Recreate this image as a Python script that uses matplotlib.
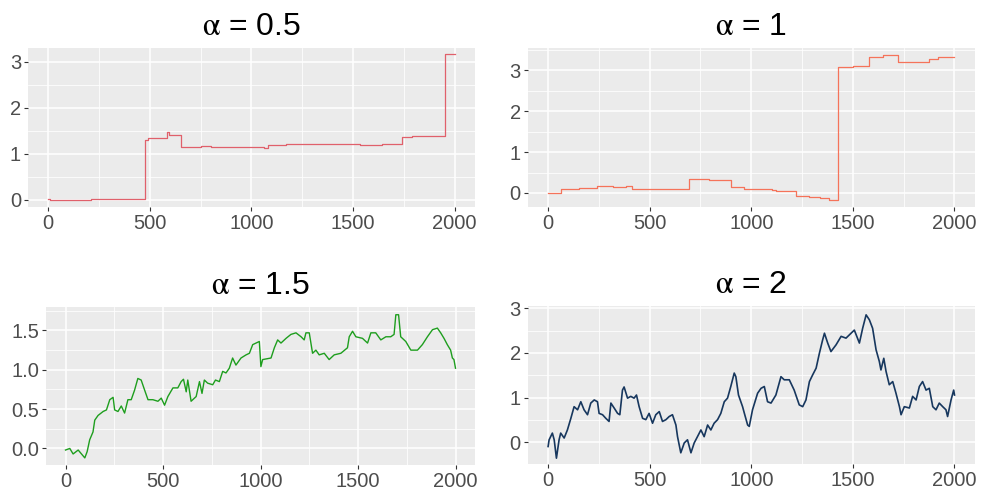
import matplotlib
matplotlib.use('Agg')
import matplotlib.pyplot as plt
from matplotlib.ticker import MultipleLocator, FormatStrFormatter

plt.rcParams['font.family'] = ['Liberation Sans', 'DejaVu Sans']
plt.rcParams['mathtext.fontset'] = 'stix'

# alpha = 0.5 : jump times and levels (step path)
a05_t = [0, 10, 210, 476, 490, 586, 592, 652, 752, 801, 1060, 1081, 1172, 1533, 1640, 1742, 1790, 1952, 2000]
a05_y = [0.02, 0.00, 0.02, 1.30, 1.34, 1.48, 1.41, 1.145, 1.17, 1.145, 1.12, 1.19, 1.22, 1.20, 1.22, 1.36, 1.38, 3.17, 3.17]

# alpha = 1 : jump times and levels (step path)
a1_t = [0, 62, 153, 243, 317, 382, 415, 530, 695, 793, 900, 965, 1100, 1121, 1220, 1286, 1340, 1380, 1425, 1500, 1581, 1650, 1700, 1724, 1800, 1873, 1920, 2000]
a1_y = [0.0, 0.105, 0.12, 0.18, 0.15, 0.17, 0.105, 0.10, 0.34, 0.31, 0.15, 0.10, 0.07, 0.04, -0.07, -0.10, -0.13, -0.17, 3.08, 3.10, 3.33, 3.36, 3.38, 3.21, 3.20, 3.28, 3.31, 3.32]

# alpha = 1.5
a15_t = [0, 22, 39, 65, 82, 99, 111, 124, 141, 150, 167, 193, 210, 227, 244, 252, 269, 286, 303, 320,
         337, 354, 371, 388, 406, 423, 448, 474, 491, 508, 525, 551, 576, 593, 605, 619, 627, 644, 670, 687,
         700, 712, 729, 755, 769, 789, 806, 823, 840, 857, 874, 900, 926, 943, 960, 977, 994, 1002, 1011, 1054,
         1071, 1088, 1105, 1131, 1156, 1182, 1208, 1224, 1233, 1250, 1267, 1284, 1301, 1327, 1352, 1378, 1412, 1446, 1455, 1472,
         1489, 1523, 1549, 1566, 1591, 1617, 1643, 1668, 1685, 1694, 1708, 1719, 1745, 1771, 1805, 1830, 1856, 1882, 1907, 1924,
         1941, 1958, 1975, 1984, 1992, 2000]
a15_y = [-0.02, 0.0, -0.07, -0.02, -0.07, -0.12, -0.04, 0.11, 0.21, 0.36, 0.42, 0.47, 0.49, 0.62, 0.65, 0.49, 0.47, 0.54, 0.45, 0.62,
         0.62, 0.74, 0.89, 0.87, 0.74, 0.62, 0.62, 0.60, 0.64, 0.55, 0.66, 0.77, 0.77, 0.85, 0.88, 0.72, 0.87, 0.60, 0.66, 0.85,
         0.70, 0.87, 0.83, 0.81, 0.87, 0.85, 0.98, 0.96, 1.02, 1.15, 1.06, 1.15, 1.19, 1.21, 1.32, 1.34, 1.36, 1.04, 1.13, 1.15,
         1.28, 1.38, 1.34, 1.40, 1.45, 1.47, 1.42, 1.38, 1.47, 1.47, 1.21, 1.25, 1.19, 1.21, 1.13, 1.19, 1.21, 1.28, 1.42, 1.49,
         1.42, 1.40, 1.34, 1.47, 1.47, 1.38, 1.42, 1.42, 1.45, 1.70, 1.70, 1.42, 1.36, 1.25, 1.25, 1.32, 1.42, 1.51, 1.53, 1.47,
         1.40, 1.32, 1.25, 1.15, 1.13, 1.02]

# alpha = 2
a2_t = [0, 5, 21, 30, 41, 54, 62, 79, 95, 112, 128, 145, 161, 177, 194, 210, 227, 243, 251, 268,
        284, 300, 309, 325, 342, 353, 366, 374, 391, 407, 423, 435, 448, 465, 481, 497, 514, 530, 547, 563,
        580, 596, 612, 629, 637, 653, 670, 686, 703, 719, 735, 752, 768, 785, 801, 817, 834, 850, 867, 883,
        899, 916, 924, 937, 957, 966, 982, 990, 1006, 1031, 1048, 1064, 1080, 1097, 1121, 1146, 1162, 1187, 1211, 1236,
        1253, 1269, 1286, 1302, 1319, 1335, 1351, 1360, 1376, 1392, 1417, 1442, 1466, 1491, 1507, 1532, 1548, 1565, 1581, 1597,
        1614, 1630, 1638, 1652, 1663, 1679, 1696, 1712, 1729, 1737, 1753, 1778, 1794, 1811, 1827, 1843, 1860, 1876, 1893, 1909,
        1925, 1942, 1958, 1966, 1983, 1996, 2000]
a2_y = [-0.09, 0.06, 0.21, 0.06, -0.35, 0.06, 0.21, 0.10, 0.28, 0.54, 0.80, 0.73, 0.91, 0.73, 0.62, 0.88, 0.95, 0.91, 0.65, 0.62,
        0.54, 0.47, 0.88, 0.77, 0.65, 0.62, 1.17, 1.24, 0.99, 1.03, 0.99, 1.06, 0.80, 0.54, 0.51, 0.65, 0.43, 0.62, 0.69, 0.47,
        0.51, 0.58, 0.62, 0.39, 0.13, -0.23, -0.01, 0.06, -0.23, -0.01, 0.13, 0.28, 0.13, 0.39, 0.28, 0.43, 0.51, 0.65, 0.91, 0.99,
        1.25, 1.55, 1.47, 1.06, 0.80, 0.65, 0.39, 0.36, 0.73, 1.10, 1.21, 1.25, 0.91, 0.88, 1.06, 1.47, 1.40, 1.40, 1.17, 0.84,
        0.80, 0.95, 1.36, 1.51, 1.66, 1.99, 2.29, 2.44, 2.22, 2.03, 2.18, 2.37, 2.33, 2.44, 2.51, 2.22, 2.55, 2.85, 2.74, 2.55,
        2.07, 1.81, 1.62, 1.88, 1.59, 1.29, 1.36, 1.10, 0.80, 0.62, 0.80, 0.77, 1.03, 0.95, 1.25, 1.36, 1.17, 1.21, 0.80, 0.73,
        0.88, 0.80, 0.73, 0.58, 0.95, 1.17, 1.06]

titles = [r'$\mathrm{\alpha}$ = 0.5', r'$\mathrm{\alpha}$ = 1', r'$\mathrm{\alpha}$ = 1.5', r'$\mathrm{\alpha}$ = 2']
colors = ['#E0606B', '#F5735A', '#1E9E1E', '#17375E']

fig = plt.figure(figsize=(9.81, 4.91), dpi=100)

boxes = [[0.0285, 0.579, 0.4557, 0.324],
         [0.538, 0.579, 0.4557, 0.324],
         [0.0469, 0.053, 0.4373, 0.322],
         [0.538, 0.055, 0.4557, 0.322]]
ylims = [(-0.15, 3.31), (-0.335, 3.55), (-0.21, 1.80), (-0.48, 3.05)]
ysteps = [1, 1, 0.5, 1]

axes = [fig.add_axes(b) for b in boxes]

axes[0].step(a05_t, a05_y, where='post', color=colors[0], lw=0.9)
axes[1].step(a1_t, a1_y, where='post', color=colors[1], lw=0.9)
axes[2].plot(a15_t, a15_y, color=colors[2], lw=1.0)
axes[3].plot(a2_t, a2_y, color=colors[3], lw=1.2)

for i, ax in enumerate(axes):
    ax.set_facecolor('#EBEBEB')
    for s in ax.spines.values():
        s.set_visible(False)
    ax.set_xlim(-100, 2100)
    ax.set_ylim(*ylims[i])
    ax.xaxis.set_major_locator(MultipleLocator(500))
    ax.xaxis.set_minor_locator(MultipleLocator(250))
    ax.yaxis.set_major_locator(MultipleLocator(ysteps[i]))
    ax.yaxis.set_minor_locator(MultipleLocator(ysteps[i] / 2))
    if i == 2:
        ax.yaxis.set_major_formatter(FormatStrFormatter('%.1f'))
    ax.grid(which='major', color='white', lw=1.1)
    ax.grid(which='minor', color='white', lw=0.55)
    ax.set_axisbelow(True)
    ax.tick_params(which='major', length=3, width=0.8, color='#333333',
                   labelsize=14.5, labelcolor='#4D4D4D', pad=2)
    ax.tick_params(which='minor', length=0)
    ax.set_title(titles[i], fontsize=23, pad=9)

plt.savefig('out.png', dpi=100)
